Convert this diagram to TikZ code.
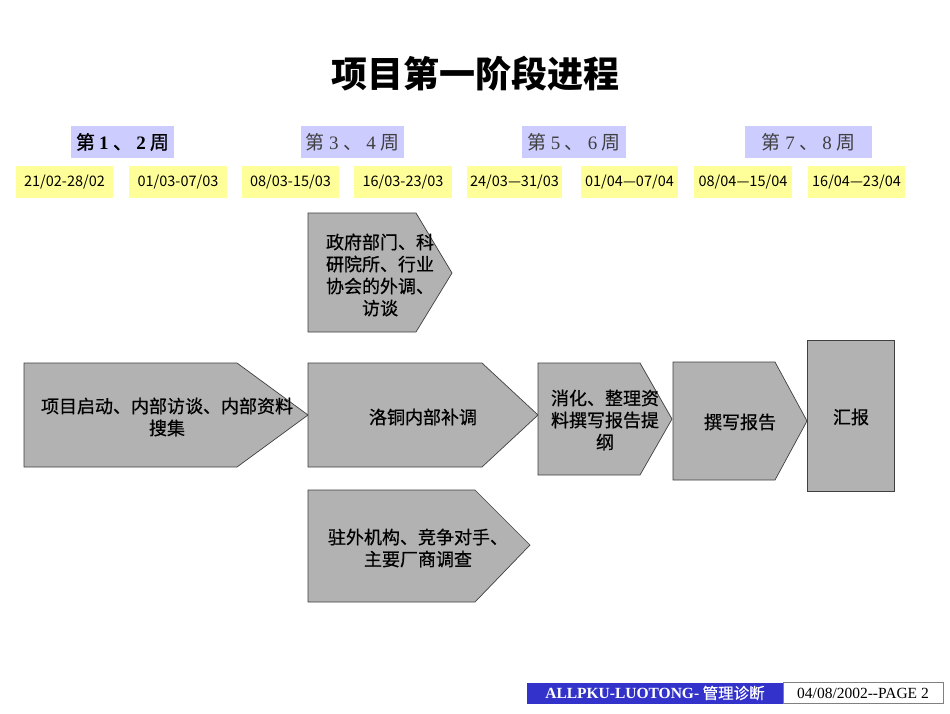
\documentclass[tikz,border=0pt]{standalone}
\usepackage{fontspec}
\setmainfont{Noto Sans CJK SC}
\newfontfamily\serifroman{Liberation Serif}
\newfontfamily\cjkmed[FakeBold=0.6]{Noto Sans CJK SC}
\newfontfamily\cjkfirst[FakeBold=1.2]{Noto Sans CJK SC}
\definecolor{boxgray}{RGB}{178,178,178}
\definecolor{weekblue}{RGB}{204,204,255}
\definecolor{dateyellow}{RGB}{255,255,153}
\definecolor{footblue}{RGB}{51,51,204}
\begin{document}
\begin{tikzpicture}[x=1pt,y=-1pt]
\tikzset{
  chev/.style={draw=black!75, fill=boxgray, line width=0.7pt, line join=miter},
  boxtxt/.style={align=center, font=\fontsize{18}{22}\selectfont\cjkmed, inner sep=0pt},
  weekbox/.style={fill=weekblue, inner sep=0pt, minimum height=32pt, font=\fontsize{19}{22}\selectfont},
  datebox/.style={fill=dateyellow, inner sep=0pt, minimum height=32pt, font=\fontsize{14.5}{16}\selectfont},
}
\useasboundingbox[fill=white] (0,0) rectangle (950,713);

% title
\node[font=\fontsize{36}{40}\selectfont\bfseries] (title) at (475,74) {项目第一阶段进程};

% week labels
\node[weekbox, minimum width=103pt, font=\fontsize{19}{22}\selectfont\cjkfirst] (w12) at (122.5,142) {第 {\serifroman\bfseries 1} 、 {\serifroman\bfseries 2} 周};
\node[weekbox, minimum width=103pt, text=black!75] (w34) at (352.5,142) {第 {\serifroman 3} 、 {\serifroman 4} 周};
\node[weekbox, minimum width=104pt, text=black!75] (w56) at (574,142) {第 {\serifroman 5} 、 {\serifroman 6} 周};
\node[weekbox, minimum width=127pt, text=black!75] (w78) at (808.5,142) {第 {\serifroman 7} 、 {\serifroman 8} 周};

% date labels
\node[datebox, minimum width=97pt] (d1) at (64.5,182) {21/02-28/02};
\node[datebox, minimum width=98pt] (d2) at (178,182) {01/03-07/03};
\node[datebox, minimum width=97pt] (d3) at (290.5,182) {08/03-15/03};
\node[datebox, minimum width=98pt] (d4) at (403,182) {16/03-23/03};
\node[datebox, minimum width=95pt] (d5) at (514.5,182) {24/03—31/03};
\node[datebox, minimum width=97pt] (d6) at (629.5,182) {01/04—07/04};
\node[datebox, minimum width=98pt] (d7) at (743,182) {08/04—15/04};
\node[datebox, minimum width=97pt] (d8) at (856.5,182) {16/04—23/04};

% process shapes
\draw[chev] (24,363) -- (237,363) -- (308,415) -- (237,467) -- (24,467) -- cycle;
\draw[chev] (308,213) -- (416,213) -- (452,273) -- (416,332) -- (308,332) -- cycle;
\draw[chev] (308,363) -- (482,363) -- (538,415) -- (482,467) -- (308,467) -- cycle;
\draw[chev] (308,490) -- (475,490) -- (530,545) -- (475,602) -- (308,602) -- cycle;
\draw[chev] (538,363) -- (640,363) -- (672,419) -- (640,475) -- (538,475) -- cycle;
\draw[chev] (673,362) -- (775,362) -- (807,421) -- (775,480) -- (673,480) -- cycle;
\draw[chev] (807,340) rectangle (894,491);

% process texts
\node[boxtxt] (p1) at (167,417) {项目启动、内部访谈、内部资料\\搜集};
\node[boxtxt] (p2) at (380,275) {政府部门、科\\研院所、行业\\协会的外调、\\访谈};
\node[boxtxt] (p3) at (423,417) {洛铜内部补调};
\node[boxtxt] (p4) at (418,548) {驻外机构、竞争对手、\\主要厂商调查};
\node[boxtxt] (p5) at (605,420) {消化、整理资\\料撰写报告提\\纲};
\node[boxtxt] (p6) at (740,422) {撰写报告};
\node[boxtxt] (p7) at (851,417) {汇报};

% footer
\node[fill=footblue, text=white, inner sep=0pt, minimum width=256pt, minimum height=21pt,
      font=\fontsize{15.5}{17}\selectfont\cjkmed] (foot1) at (655,693)
      {{\serifroman\bfseries ALLPKU-LUOTONG-} 管理诊断};
\node[draw=black!50, fill=white, inner sep=0pt, minimum width=160pt, minimum height=21pt,
      font=\fontsize{15.5}{17}\selectfont\serifroman] (foot2) at (863,693) {04/08/2002--PAGE 2};
\end{tikzpicture}
\end{document}
